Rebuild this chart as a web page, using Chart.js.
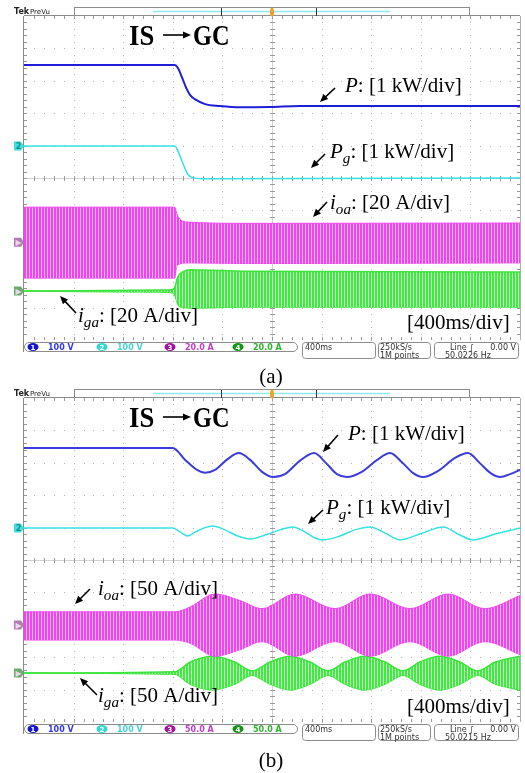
<html>
<head>
<meta charset="utf-8">
<style>
  body { margin: 0; background: #fff; width: 525px; height: 773px; overflow: hidden; position: relative; }
  canvas { position: absolute; left: 0; }
  #scopeA { top: 0; }
  #scopeB { top: 382px; }
</style>
</head>
<body>
<canvas id="scopeA" width="525" height="392"></canvas>
<canvas id="scopeB" width="525" height="391"></canvas>
<script src="https://cdn.jsdelivr.net/npm/chart.js@4.4.0/dist/chart.umd.min.js"></script>
<script>
// all values in screen divisions: x 0..10 (400 ms/div), y 0..10 (0 = bottom)

// ---- panel (a) ----
let aPowerT = [0, 3.04, 3.10, 3.19, 3.27, 3.35, 3.47, 3.65, 3.95, 4.35, 4.96, 5.56, 10];
let aPowerV = [8.49, 8.49, 8.40, 8.09, 7.78, 7.56, 7.41, 7.28, 7.22, 7.18, 7.19, 7.22, 7.22];
let aGridPT = [0, 3.04, 3.14, 3.23, 3.31, 3.39, 3.60, 10];
let aGridPV = [5.99, 5.99, 5.70, 5.35, 5.10, 5.02, 4.98, 5.00];
let aIoaT  = [0, 3.04, 3.07, 3.12, 3.30, 4.50, 10];
let aIoaHi = [4.10, 4.10, 3.95, 3.77, 3.64, 3.60, 3.61];
let aIoaLo = [1.91, 1.91, 2.22, 2.33, 2.38, 2.36, 2.38];
let aIgaT  = [0, 2.68, 3.00, 3.04, 3.10, 3.20, 3.35, 4.50, 10];
let aIgaHi = [1.51, 1.54, 1.56, 1.62, 1.95, 2.10, 2.17, 2.12, 2.10];
let aIgaLo = [1.51, 1.48, 1.46, 1.40, 1.10, 1.00, 0.99, 1.02, 1.02];

// ---- panel (b) ----
let bPowerT = [0, 3.00, 3.25, 3.49, 3.65, 3.85, 4.11, 4.33, 4.56, 4.80, 5.02, 5.26, 5.56, 5.85, 6.09, 6.31,
               6.51, 6.81, 7.12, 7.38, 7.62, 7.84, 8.04, 8.35, 8.69, 8.95, 9.19, 9.40, 9.60, 9.80, 10];
let bPowerV = [8.46, 8.46, 8.09, 7.78, 7.69, 7.78, 8.12, 8.30, 8.09, 7.72, 7.56, 7.65, 8.06, 8.30, 7.99, 7.65,
               7.56, 7.72, 8.09, 8.30, 8.02, 7.69, 7.56, 7.75, 8.15, 8.30, 7.99, 7.69, 7.56, 7.65, 7.78];
let bGridPT = [0, 3.00, 3.15, 3.29, 3.45, 3.65, 3.81, 4.05, 4.31, 4.56, 4.86, 5.16, 5.42, 5.67, 5.87, 6.03,
               6.37, 6.67, 6.98, 7.28, 7.58, 7.98, 8.45, 8.79, 9.05, 9.50, 10];
let bGridPV = [5.99, 5.99, 5.86, 5.74, 5.86, 6.00, 6.05, 5.93, 5.74, 5.65, 5.77, 5.93, 6.02, 5.86, 5.68, 5.62,
               5.74, 5.93, 6.02, 5.83, 5.62, 5.80, 6.02, 5.77, 5.62, 5.80, 5.99];
let bIoaT  = [0, 3.04, 3.35, 3.85, 4.35, 4.80, 5.46, 6.27, 6.98, 7.78, 8.55, 9.29, 10];
let bIoaHi = [3.40, 3.40, 3.55, 3.95, 3.75, 3.50, 3.95, 3.50, 3.95, 3.50, 3.95, 3.50, 3.90];
let bIoaLo = [2.53, 2.53, 2.43, 2.03, 2.23, 2.48, 2.03, 2.48, 2.03, 2.48, 2.03, 2.48, 2.08];
let bIgaT  = [0, 3.04, 3.35, 3.81, 4.25, 4.60, 4.96, 5.36, 5.77, 6.13, 6.47, 6.88, 7.28, 7.64, 7.98, 8.39, 8.79, 9.15, 9.50, 10];
let bIgaHi = [1.51, 1.55, 1.85, 2.03, 1.85, 1.58, 1.85, 2.03, 1.85, 1.58, 1.85, 2.03, 1.85, 1.58, 1.85, 2.03, 1.85, 1.58, 1.85, 2.03];
let bIgaLo = [1.51, 1.47, 1.17, 0.99, 1.17, 1.44, 1.17, 0.99, 1.17, 1.44, 1.17, 0.99, 1.17, 1.44, 1.17, 0.99, 1.17, 1.44, 1.17, 0.99];

// status bar texts
let chanScaleA = ["100 V", "100 V", "20.0 A", "20.0 A"];
let chanScaleB = ["100 V", "100 V", "50.0 A", "50.0 A"];
let trigFreqA = "50.0226 Hz";
let trigFreqB = "50.0215 Hz";

// colours
let chanColor = ["#1414c8", "#2fd6d6", "#a012a0", "#129612"];
let chanText  = ["#3434f0", "#46d4d4", "#c43cc4", "#2cb42c"];
let serif = '"Liberation Serif", "Times New Roman", serif';
let sans = '"DejaVu Sans", sans-serif';

function xy(t, v) {
  return t.map((x, i) => ({ x: x, y: v[i] }));
}

function stripes(c1, c2) {
  let p = document.createElement("canvas");
  p.width = 3; p.height = 2;
  let g = p.getContext("2d");
  g.fillStyle = c2; g.fillRect(0, 0, 3, 2);
  g.fillStyle = c1; g.fillRect(0, 0, 2, 2);
  return g.createPattern(p, "repeat");
}

function rich(ctx, x, y, parts, size) {
  parts.forEach(([t, k]) => {
    let fs = k === "s" ? size * 0.72 : size;
    ctx.font = (k === "n" ? "" : "italic ") + fs + "px " + serif;
    ctx.fillText(t, x, k === "s" ? y + size * 0.24 : y);
    x += ctx.measureText(t).width;
  });
}

function arrow(ctx, x1, y1, x2, y2) {
  let a = Math.atan2(y2 - y1, x2 - x1);
  ctx.strokeStyle = "#000"; ctx.fillStyle = "#000"; ctx.lineWidth = 1.6;
  ctx.beginPath(); ctx.moveTo(x1, y1); ctx.lineTo(x2 - 5 * Math.cos(a), y2 - 5 * Math.sin(a)); ctx.stroke();
  ctx.beginPath();
  ctx.moveTo(x2, y2);
  ctx.lineTo(x2 - 8 * Math.cos(a) + 3.5 * Math.sin(a), y2 - 8 * Math.sin(a) - 3.5 * Math.cos(a));
  ctx.lineTo(x2 - 8 * Math.cos(a) - 3.5 * Math.sin(a), y2 - 8 * Math.sin(a) + 3.5 * Math.cos(a));
  ctx.closePath(); ctx.fill();
}

function roundBox(ctx, x, y, w, h, r) {
  ctx.beginPath();
  ctx.roundRect(x, y, w, h, r);
  ctx.fillStyle = "#fff"; ctx.fill();
  ctx.strokeStyle = "#8c8c8c"; ctx.lineWidth = 1; ctx.stroke();
}

// graticule behind the traces
let graticule = {
  id: "graticule",
  beforeDatasetsDraw(chart) {
    let ctx = chart.ctx, ca = chart.chartArea;
    let dw = (ca.right - ca.left) / 10, dh = (ca.bottom - ca.top) / 10;
    ctx.save();
    ctx.fillStyle = "#b4b4b4";
    for (let k = 1; k < 10; k++) {
      let gx = Math.round(ca.left + k * dw), gy = Math.round(ca.top + k * dh);
      for (let s = 0; s <= 50; s++) {
        ctx.fillRect(gx, Math.round(ca.top + s * dh / 5), 1, 1);
        ctx.fillRect(Math.round(ca.left + s * dw / 5), gy, 1, 1);
      }
    }
    // centre cross with minor ticks
    let cx = Math.round(ca.left + 5 * dw) + 0.5, cy = Math.round(ca.top + 5 * dh) + 0.5;
    ctx.strokeStyle = "#d2d2d2"; ctx.lineWidth = 1;
    ctx.beginPath();
    ctx.moveTo(ca.left, cy); ctx.lineTo(ca.right, cy);
    ctx.moveTo(cx, ca.top); ctx.lineTo(cx, ca.bottom);
    ctx.stroke();
    ctx.strokeStyle = "#9a9a9a";
    ctx.beginPath();
    for (let s = 1; s < 50; s++) {
      let tx = Math.round(ca.left + s * dw / 5) + 0.5, ty = Math.round(ca.top + s * dh / 5) + 0.5;
      ctx.moveTo(tx, cy - 2.5); ctx.lineTo(tx, cy + 2.5);
      ctx.moveTo(cx - 2.5, ty); ctx.lineTo(cx + 2.5, ty);
      ctx.moveTo(ca.left, ty); ctx.lineTo(ca.left + 3, ty);
      ctx.moveTo(ca.right, ty); ctx.lineTo(ca.right - 3, ty);
      ctx.moveTo(tx, ca.top); ctx.lineTo(tx, ca.top + 3);
      ctx.moveTo(tx, ca.bottom); ctx.lineTo(tx, ca.bottom - 3);
    }
    ctx.stroke();
    // frame
    ctx.strokeStyle = "#8a8a8a";
    ctx.beginPath();
    ctx.moveTo(ca.left - 0.5, ca.top); ctx.lineTo(ca.left - 0.5, ca.bottom + 12);
    ctx.moveTo(ca.left, ca.top - 0.5); ctx.lineTo(ca.right, ca.top - 0.5);
    ctx.stroke();
    ctx.strokeStyle = "#b0b0b0";
    ctx.beginPath();
    ctx.moveTo(ca.right + 0.5, ca.top); ctx.lineTo(ca.right + 0.5, ca.bottom);
    ctx.stroke();
    ctx.restore();
  }
};

// header, status bar, channel markers and annotation text
let overlay = {
  id: "overlay",
  afterDraw(chart, args, opt) {
    let ctx = chart.ctx, ca = chart.chartArea;
    let T = ca.top, B = ca.bottom;
    let ys = chart.scales.y;
    ctx.save();

    // header: Tek PreVu + record bar
    ctx.fillStyle = "#222"; ctx.textBaseline = "alphabetic";
    ctx.font = "bold 8px " + sans; ctx.fillText("Tek", 14, T - 2);
    ctx.font = "7px " + sans; ctx.fillText("PreVu", 30, T - 2);
    ctx.strokeStyle = "#8c8c8c"; ctx.lineWidth = 1;
    ctx.strokeRect(74.5, T - 8.5, 395, 8);
    ctx.strokeStyle = "#8ee8ee"; ctx.lineWidth = 1.5;
    ctx.beginPath(); ctx.moveTo(153, T - 4.5); ctx.lineTo(390, T - 4.5); ctx.stroke();
    ctx.strokeStyle = "#333"; ctx.lineWidth = 1;
    ctx.beginPath(); ctx.moveTo(221.5, T - 8); ctx.lineTo(221.5, T); ctx.moveTo(316.5, T - 8); ctx.lineTo(316.5, T); ctx.stroke();
    ctx.fillStyle = "#f0a020";
    ctx.beginPath(); ctx.ellipse(272, T - 4, 2, 4.5, 0, 0, Math.PI * 2); ctx.fill();

    // channel markers on the left edge
    opt.markers.forEach(([ch, lvl, label]) => {
      let my = ys.getPixelForValue(lvl);
      ctx.fillStyle = ["#1414c8", "#40dede", "#b57ab5", "#6aaa6a"][ch];
      ctx.beginPath();
      ctx.moveTo(14, my - 4.5); ctx.lineTo(21, my - 4.5); ctx.lineTo(24, my); ctx.lineTo(21, my + 4.5); ctx.lineTo(14, my + 4.5);
      ctx.closePath(); ctx.fill();
      ctx.fillStyle = ch === 1 ? "#1a8c8c" : "#e8d8e8";
      ctx.font = "bold 8px " + sans; ctx.textAlign = "center";
      ctx.fillText(label, 18.5, my + 3);
      ctx.textAlign = "left";
    });

    // status bar
    roundBox(ctx, 24.5, B + 2.5, 273, 9, 4.5);
    roundBox(ctx, 302.5, B + 2.5, 73, 16, 3);
    roundBox(ctx, 378.5, B + 2.5, 52, 16, 3);
    roundBox(ctx, 434.5, B + 2.5, 84, 16, 3);
    let cxs = [33, 102, 170, 238];
    opt.scales.forEach((s, i) => {
      ctx.fillStyle = chanColor[i];
      ctx.beginPath(); ctx.ellipse(cxs[i], B + 7, 5.5, 4, 0, 0, Math.PI * 2); ctx.fill();
      ctx.fillStyle = "#fff"; ctx.font = "bold 7px " + sans; ctx.textAlign = "center";
      ctx.fillText(String(i + 1), cxs[i], B + 9.5);
      ctx.textAlign = "left";
      ctx.fillStyle = chanText[i]; ctx.font = "bold 8px " + sans;
      ctx.fillText(s, cxs[i] + 15, B + 10);
    });
    ctx.fillStyle = "#333"; ctx.font = "8px " + sans;
    ctx.fillText("400ms", 305, B + 10);
    ctx.fillText("250kS/s", 380, B + 10);
    ctx.fillText("1M points", 380, B + 17.5);
    ctx.fillText("Line \u222B", 450, B + 10);
    ctx.textAlign = "right"; ctx.fillText("0.00 V", 516, B + 10); ctx.textAlign = "left";
    ctx.fillText(opt.freq, 445, B + 17.5);

    // annotations
    ctx.fillStyle = "#000";
    ctx.font = "bold 29px " + serif;
    ctx.save();
    ctx.translate(129, 45); ctx.scale(0.92, 1);
    ctx.fillText("IS", 0, 0);
    ctx.restore();
    ctx.save();
    ctx.translate(193, 45); ctx.scale(0.84, 1);
    ctx.fillText("GC", 0, 0);
    ctx.restore();
    arrow(ctx, 163, 35, 191, 35);
    opt.labels.forEach(l => {
      ctx.fillStyle = "#000";
      rich(ctx, l.x, l.y, l.parts, 21);
      if (l.arrow) arrow(ctx, ...l.arrow);
    });
    ctx.fillStyle = "#000"; ctx.font = "21px " + serif; ctx.textAlign = "center";
    ctx.fillText(opt.caption, 271, opt.capY);
    ctx.restore();
  }
};

function makeScope(id, padBottom, traces, overlayOpt) {
  let mag = stripes("#f044f0", "#fbb8fb");
  let grn = stripes("#44e844", "#bff7bf");
  let data = {
    datasets: [
      { data: xy(traces.ioaT, traces.ioaHi), borderColor: "#f044f0", borderWidth: 1, fill: "+1", backgroundColor: mag },
      { data: xy(traces.ioaT, traces.ioaLo), borderColor: "#f044f0", borderWidth: 1, fill: false },
      { data: xy(traces.igaT, traces.igaHi), borderColor: "#3ee43e", borderWidth: 1.5, fill: "+1", backgroundColor: grn },
      { data: xy(traces.igaT, traces.igaLo), borderColor: "#3ee43e", borderWidth: 1.5, fill: false },
      { data: xy(traces.pgT, traces.pgV), borderColor: "#35e2e2", borderWidth: 1.5, fill: false },
      { data: xy(traces.pT, traces.pV), borderColor: traces.pColor, borderWidth: 2, fill: false },
    ],
  };
  let config = {
    type: "line",
    data: data,
    options: {
      responsive: false,
      animation: false,
      layout: { padding: { left: 24, right: 5, top: 16, bottom: padBottom } },
      elements: { point: { radius: 0 }, line: { cubicInterpolationMode: "monotone" } },
      scales: {
        x: { type: "linear", min: 0, max: 10, display: false },
        y: { type: "linear", min: 0, max: 10, display: false },
      },
      plugins: { legend: { display: false }, tooltip: { enabled: false }, overlay: overlayOpt },
    },
    plugins: [graticule, overlay],
  };
  return new Chart(document.getElementById(id).getContext("2d"), config);
}

makeScope("scopeA", 52, {
  pT: aPowerT, pV: aPowerV, pColor: "#1e1ed8",
  pgT: aGridPT, pgV: aGridPV,
  ioaT: aIoaT, ioaHi: aIoaHi, ioaLo: aIoaLo,
  igaT: aIgaT, igaHi: aIgaHi, igaLo: aIgaLo,
}, {
  scales: chanScaleA, freq: trigFreqA, caption: "(a)", capY: 383,
  markers: [[1, aGridPV[0], "2"], [2, 3.02, "\u25B6"], [3, aIgaHi[0], "\u25B6"]],
  labels: [
    { x: 345, y: 92, parts: [["P", "i"], [": [1 kW/div]", "n"]], arrow: [335, 88, 320, 102] },
    { x: 330, y: 158, parts: [["P", "i"], ["g", "s"], [": [1 kW/div]", "n"]], arrow: [325, 154, 311, 168] },
    { x: 330, y: 209, parts: [["i", "i"], ["oa", "s"], [": [20 A/div]", "n"]], arrow: [327, 202, 313, 217] },
    { x: 78, y: 322, parts: [["i", "i"], ["ga", "s"], [": [20 A/div]", "n"]], arrow: [76, 313, 60, 296] },
    { x: 407, y: 329, parts: [["[400ms/div]", "n"]] },
  ],
});

makeScope("scopeB", 51, {
  pT: bPowerT, pV: bPowerV, pColor: "#3c3cdc",
  pgT: bGridPT, pgV: bGridPV,
  ioaT: bIoaT, ioaHi: bIoaHi, ioaLo: bIoaLo,
  igaT: bIgaT, igaHi: bIgaHi, igaLo: bIgaLo,
}, {
  scales: chanScaleB, freq: trigFreqB, caption: "(b)", capY: 385,
  markers: [[1, bGridPV[0], "2"], [2, 2.99, "\u25B6"], [3, bIgaHi[0], "\u25B6"]],
  labels: [
    { x: 348, y: 58, parts: [["P", "i"], [": [1 kW/div]", "n"]], arrow: [338, 53, 323, 70] },
    { x: 326, y: 132, parts: [["P", "i"], ["g", "s"], [": [1 kW/div]", "n"]], arrow: [323, 128, 308, 142] },
    { x: 98, y: 213, parts: [["i", "i"], ["oa", "s"], [": [50 A/div]", "n"]], arrow: [90, 207, 75, 222] },
    { x: 98, y: 320, parts: [["i", "i"], ["ga", "s"], [": [50 A/div]", "n"]], arrow: [97, 313, 80, 296] },
    { x: 407, y: 331, parts: [["[400ms/div]", "n"]] },
  ],
});
</script>
</body>
</html>
